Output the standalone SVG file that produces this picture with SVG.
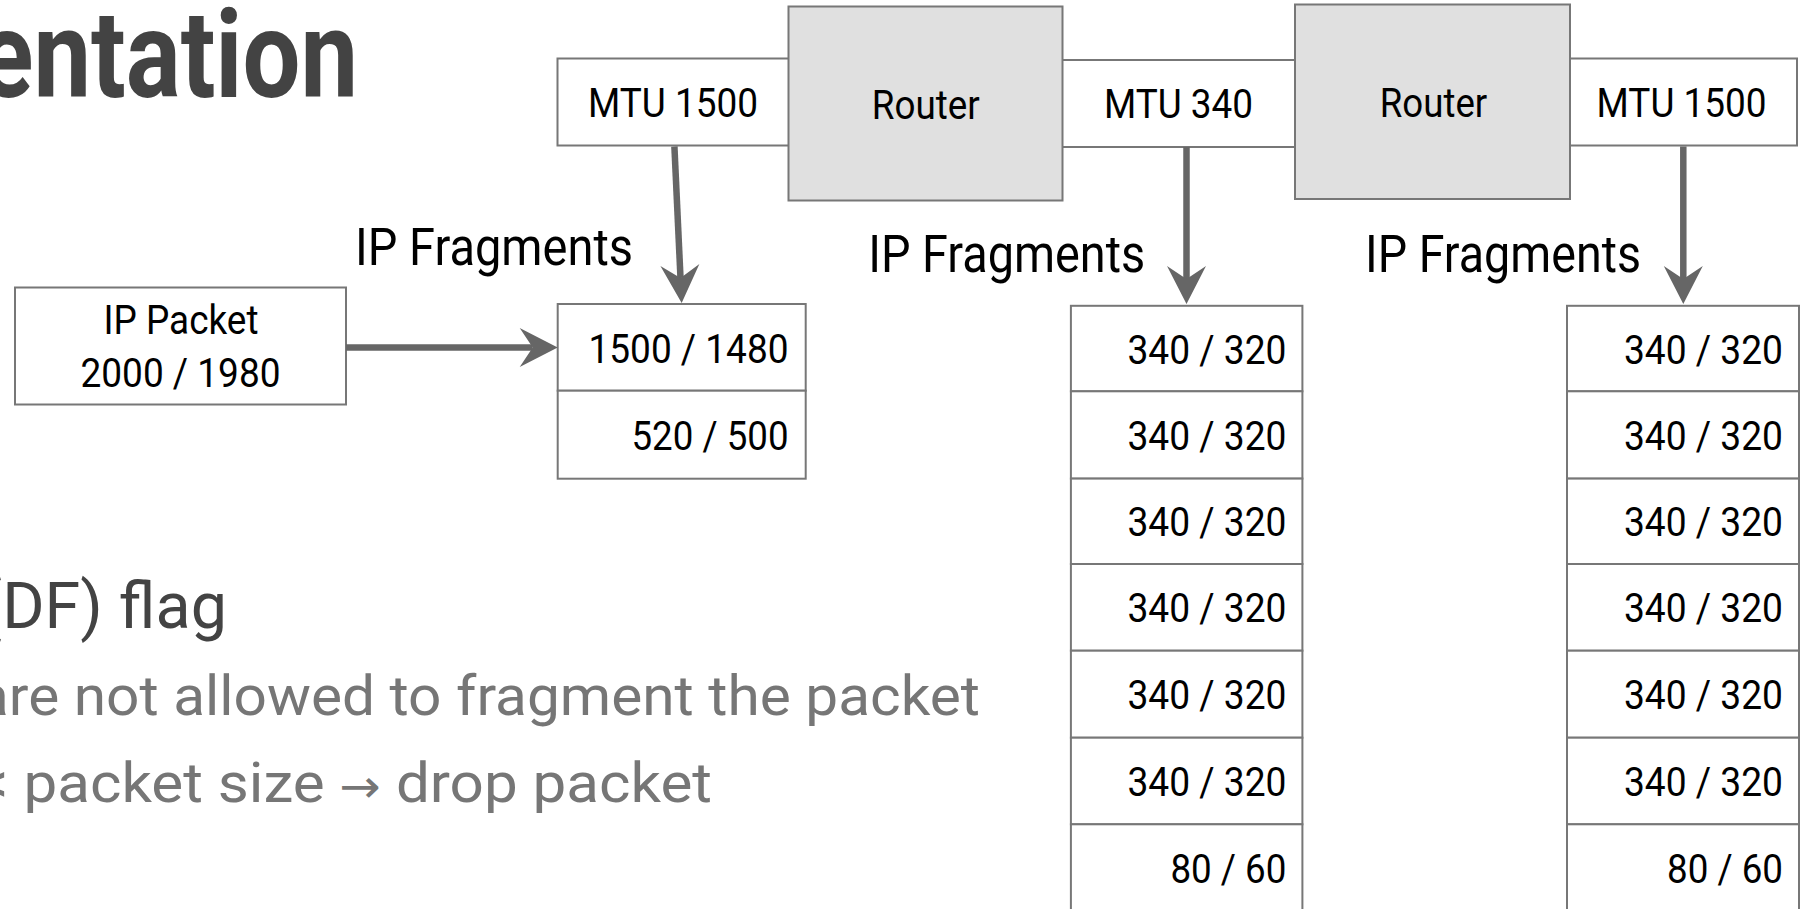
<svg xmlns="http://www.w3.org/2000/svg" width="1811" height="909" viewBox="0 0 1811 909">
<style>
.box{fill:#ffffff;stroke:#777777;stroke-width:2}
.router{fill:#e0e0e0;stroke:#777777;stroke-width:2}
.lbl{font-family:Roboto,"Liberation Sans",sans-serif;font-size:41px;fill:#000000}
.mid{text-anchor:middle}
.end{text-anchor:end}
.frag{font-family:Roboto,"Liberation Sans",sans-serif;font-size:51px;fill:#000000}
.title{font-family:Roboto,"Liberation Sans",sans-serif;font-size:123px;font-weight:bold;fill:#434343}
.b1{font-family:Roboto,"Liberation Sans",sans-serif;font-size:64px;fill:#434343}
.b2{font-family:Roboto,"Liberation Sans",sans-serif;font-size:56px;fill:#767676}
.arr{font-family:"DejaVu Sans",sans-serif;font-size:46px}
.conn{stroke:#666666;stroke-width:6.5;fill:none}
</style>
<defs>
<marker id="ah" viewBox="-40 -22 44 44" refX="-25" refY="0" markerWidth="44" markerHeight="44" markerUnits="userSpaceOnUse" orient="auto">
<path d="M0,0 L-38,-19.5 L-25,0 L-38,19.5 Z" fill="#666666"/>
</marker>
</defs>
<rect width="1811" height="909" fill="#ffffff"/>

<g id="slide-text">
<text class="title" x="-22" y="97" textLength="380" lengthAdjust="spacingAndGlyphs">entation</text>
<text class="b1" x="-20" y="628" textLength="247" lengthAdjust="spacingAndGlyphs">(DF) flag</text>
<text class="b2" x="-23" y="715" textLength="1003" lengthAdjust="spacingAndGlyphs">are not allowed to fragment the packet</text>
<text class="b2" x="-22" y="801.7" textLength="734" lengthAdjust="spacingAndGlyphs">&lt; packet size <tspan class="arr">→</tspan> drop packet</text>
</g>

<g id="mtu1">
<rect class="box" x="557.5" y="58.5" width="240" height="87"/>
<text class="lbl mid" x="673" y="116.7" textLength="170" lengthAdjust="spacingAndGlyphs">MTU 1500</text>
</g>
<g id="mtu2">
<rect class="box" x="1055" y="60" width="245" height="87"/>
<text class="lbl mid" x="1178.5" y="118.3" textLength="149" lengthAdjust="spacingAndGlyphs">MTU 340</text>
</g>
<g id="mtu3">
<rect class="box" x="1560" y="58.5" width="237" height="87"/>
<text class="lbl mid" x="1681.6" y="116.7" textLength="170" lengthAdjust="spacingAndGlyphs">MTU 1500</text>
</g>
<g id="router1">
<rect class="router" x="788.5" y="6.5" width="274" height="194"/>
<text class="lbl mid" x="925.8" y="119" textLength="108" lengthAdjust="spacingAndGlyphs">Router</text>
</g>
<g id="router2">
<rect class="router" x="1295" y="4.5" width="275" height="194.5"/>
<text class="lbl mid" x="1433.5" y="116.7" textLength="107.5" lengthAdjust="spacingAndGlyphs">Router</text>
</g>

<g id="packet">
<rect class="box" x="15" y="287.5" width="331" height="117"/>
<text class="lbl mid" x="181" y="334.3" textLength="155" lengthAdjust="spacingAndGlyphs">IP Packet</text>
<text class="lbl mid" x="180.5" y="386.7" textLength="200" lengthAdjust="spacingAndGlyphs">2000 / 1980</text>
</g>

<g id="label-frag1"><text class="frag" x="355" y="264.5" textLength="278" lengthAdjust="spacingAndGlyphs">IP Fragments</text></g>
<g id="label-frag2"><text class="frag" x="868.2" y="272" textLength="277" lengthAdjust="spacingAndGlyphs">IP Fragments</text></g>
<g id="label-frag3"><text class="frag" x="1365" y="272" textLength="276" lengthAdjust="spacingAndGlyphs">IP Fragments</text></g>

<g id="col1">
<rect class="box" x="557.7" y="304" width="248" height="86.7"/>
<text class="lbl end" x="788.5" y="363.3" textLength="200" lengthAdjust="spacingAndGlyphs">1500 / 1480</text>
<rect class="box" x="557.7" y="390.7" width="248" height="88"/>
<text class="lbl end" x="788.5" y="450" textLength="157" lengthAdjust="spacingAndGlyphs">520 / 500</text>
</g>

<g id="col2">
<rect class="box" x="1070.9" y="305.8" width="231.5" height="85.5"/>
<rect class="box" x="1070.9" y="391.3" width="231.5" height="87.3"/>
<rect class="box" x="1070.9" y="478.6" width="231.5" height="85.4"/>
<rect class="box" x="1070.9" y="564" width="231.5" height="86.7"/>
<rect class="box" x="1070.9" y="650.7" width="231.5" height="87"/>
<rect class="box" x="1070.9" y="737.7" width="231.5" height="86.6"/>
<rect class="box" x="1070.9" y="824.3" width="231.5" height="100"/>
<text class="lbl end" x="1286.4" y="364" textLength="159" lengthAdjust="spacingAndGlyphs">340 / 320</text>
<text class="lbl end" x="1286.4" y="449.5" textLength="159" lengthAdjust="spacingAndGlyphs">340 / 320</text>
<text class="lbl end" x="1286.4" y="536" textLength="159" lengthAdjust="spacingAndGlyphs">340 / 320</text>
<text class="lbl end" x="1286.4" y="622" textLength="159" lengthAdjust="spacingAndGlyphs">340 / 320</text>
<text class="lbl end" x="1286.4" y="709" textLength="159" lengthAdjust="spacingAndGlyphs">340 / 320</text>
<text class="lbl end" x="1286.4" y="796" textLength="159" lengthAdjust="spacingAndGlyphs">340 / 320</text>
<text class="lbl end" x="1286.4" y="882.5" textLength="116" lengthAdjust="spacingAndGlyphs">80 / 60</text>
</g>

<g id="col3">
<rect class="box" x="1567" y="305.8" width="232" height="85.5"/>
<rect class="box" x="1567" y="391.3" width="232" height="87.3"/>
<rect class="box" x="1567" y="478.6" width="232" height="85.4"/>
<rect class="box" x="1567" y="564" width="232" height="86.7"/>
<rect class="box" x="1567" y="650.7" width="232" height="87"/>
<rect class="box" x="1567" y="737.7" width="232" height="86.6"/>
<rect class="box" x="1567" y="824.3" width="232" height="100"/>
<text class="lbl end" x="1783" y="364" textLength="159" lengthAdjust="spacingAndGlyphs">340 / 320</text>
<text class="lbl end" x="1783" y="449.5" textLength="159" lengthAdjust="spacingAndGlyphs">340 / 320</text>
<text class="lbl end" x="1783" y="536" textLength="159" lengthAdjust="spacingAndGlyphs">340 / 320</text>
<text class="lbl end" x="1783" y="622" textLength="159" lengthAdjust="spacingAndGlyphs">340 / 320</text>
<text class="lbl end" x="1783" y="709" textLength="159" lengthAdjust="spacingAndGlyphs">340 / 320</text>
<text class="lbl end" x="1783" y="796" textLength="159" lengthAdjust="spacingAndGlyphs">340 / 320</text>
<text class="lbl end" x="1783" y="882.5" textLength="116" lengthAdjust="spacingAndGlyphs">80 / 60</text>
</g>

<g id="connectors">
<line class="conn" x1="346" y1="347.5" x2="532.7" y2="347.5" marker-end="url(#ah)"/>
<line class="conn" x1="674.4" y1="146.5" x2="680.5" y2="278" marker-end="url(#ah)"/>
<line class="conn" x1="1186.5" y1="147" x2="1186.5" y2="279" marker-end="url(#ah)"/>
<line class="conn" x1="1683.3" y1="146.5" x2="1683.3" y2="279" marker-end="url(#ah)"/>
</g>
</svg>
